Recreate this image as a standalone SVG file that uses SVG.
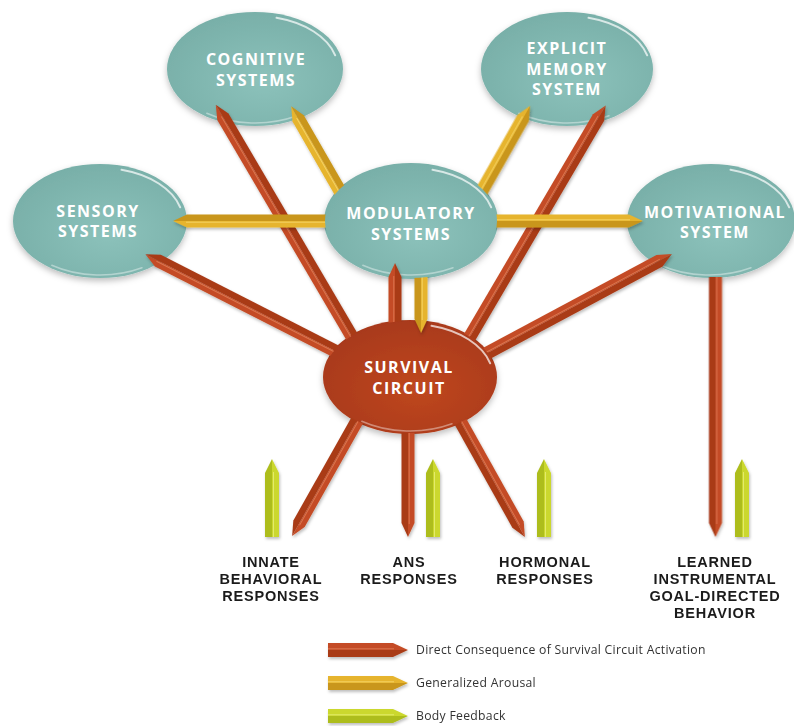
<svg xmlns="http://www.w3.org/2000/svg" xmlns:xlink="http://www.w3.org/1999/xlink" width="794" height="726" viewBox="0 0 794 726">
<style>
.nl{font-family:"Open Sans","Liberation Sans",sans-serif;font-weight:700;font-size:16px;letter-spacing:1.5px;fill:#fff;text-anchor:middle}
.bl{font-family:"Liberation Sans",Arial,sans-serif;font-weight:700;font-size:14.5px;letter-spacing:.8px;fill:#1b1b1b;text-anchor:middle}
.lg{font-family:"Open Sans","Liberation Sans",sans-serif;font-size:12.2px;letter-spacing:.3px;fill:#333}
.teal{fill:url(#tealG)}
.surv{fill:url(#survG)}
.gloss{fill:none;stroke:#fff;stroke-linecap:round}
.r1{fill:#c44c25}.r2{fill:#a93b19}.rh{fill:none;stroke:#e48763;stroke-width:1;opacity:.7}
.y1{fill:#e6b42e}.y2{fill:#c9961b}.yh{fill:none;stroke:#f7da70;stroke-width:1;opacity:.8}
.g1{fill:#cbd82e}.g2{fill:#adbd1c}.gh{fill:none;stroke:#e8f07c;stroke-width:1;opacity:.8}
</style>
<defs>
<radialGradient id="tealG" cx="0.55" cy="0.6" r="0.62">
<stop offset="0" stop-color="#8cc2bb"/><stop offset="1" stop-color="#78afa8"/>
</radialGradient>
<radialGradient id="survG" cx="0.55" cy="0.6" r="0.62">
<stop offset="0" stop-color="#bf4720"/><stop offset="1" stop-color="#a8391a"/>
</radialGradient>
<filter id="esh" x="-15%" y="-15%" width="130%" height="140%">
<feDropShadow dx="0" dy="3" stdDeviation="3" flood-color="#000" flood-opacity=".26"/>
</filter>
<filter id="ash" x="-10%" y="-10%" width="120%" height="120%">
<feDropShadow dx="1" dy="2" stdDeviation="1.6" flood-color="#000" flood-opacity=".26"/>
</filter>
<g id="gloss">
<path class="gloss" d="M21.5,-51.2A83,53 0 0 1 80.2,-13.7" stroke-width="2" opacity=".7"/>
<path class="gloss" d="M42,46.8A84,54 0 0 1 -48.2,44.2" stroke-width="1.5" opacity=".4"/>
</g>
<mask id="mSurv" maskUnits="userSpaceOnUse" x="0" y="0" width="794" height="726">
<rect width="794" height="726" fill="#fff"/>
<ellipse cx="410" cy="377" rx="86" ry="56" fill="#000"/>
</mask>
<mask id="mMod" maskUnits="userSpaceOnUse" x="0" y="0" width="794" height="726">
<rect width="794" height="726" fill="#fff"/>
<ellipse cx="411" cy="221" rx="86" ry="57" fill="#000"/>
</mask>
</defs>
<rect width="794" height="726" fill="#fff"/>

<g id="node-cognitive">
<ellipse class="teal" cx="255" cy="69" rx="88" ry="57" filter="url(#esh)"/>
<use xlink:href="#gloss" transform="translate(255,69)"/>
<text class="nl" x="256" y="65">COGNITIVE</text>
<text class="nl" x="256" y="86">SYSTEMS</text>
</g>
<g id="node-explicit">
<ellipse class="teal" cx="567" cy="69" rx="86" ry="57" filter="url(#esh)"/>
<use xlink:href="#gloss" transform="translate(567,69)"/>
<text class="nl" x="567" y="54">EXPLICIT</text>
<text class="nl" x="567" y="75">MEMORY</text>
<text class="nl" x="567" y="95">SYSTEM</text>
</g>
<g id="node-sensory">
<ellipse class="teal" cx="100" cy="221" rx="87" ry="57" filter="url(#esh)"/>
<use xlink:href="#gloss" transform="translate(100,221)"/>
<text class="nl" x="98" y="217">SENSORY</text>
<text class="nl" x="98" y="237">SYSTEMS</text>
</g>
<g id="node-motivational">
<ellipse class="teal" cx="711" cy="221" rx="84" ry="57" filter="url(#esh)"/>
<use xlink:href="#gloss" transform="translate(709,221)"/>
<text class="nl" x="715" y="218">MOTIVATIONAL</text>
<text class="nl" x="715" y="238">SYSTEM</text>
</g>
<g id="node-modulatory">
<ellipse class="teal" cx="411" cy="221" rx="87" ry="58" filter="url(#esh)"/>
<use xlink:href="#gloss" transform="translate(411,221)"/>
<text class="nl" x="411" y="219">MODULATORY</text>
<text class="nl" x="411" y="240">SYSTEMS</text>
</g>
<g id="node-survival">
<ellipse class="surv" cx="410" cy="377" rx="87" ry="57" filter="url(#esh)"/>
<use xlink:href="#gloss" transform="translate(410,377)"/>
<text class="nl" x="409" y="373">SURVIVAL</text>
<text class="nl" x="409" y="394">CIRCUIT</text>
</g>

<g id="connectors">
<g id="direct-consequence" mask="url(#mSurv)" filter="url(#ash)">
<g transform="translate(358,347) rotate(-120.4)"><path class="r1" d="M0,-6.5H267L281,0H0Z"/><path class="r2" d="M0,0H281L267,6.5H0Z"/><path class="rh" d="M0,-1.2H268"/></g>
<g transform="translate(468,340) rotate(-59.6)"><path class="r1" d="M0,-6.5H258L272,0H0Z"/><path class="r2" d="M0,0H272L258,6.5H0Z"/><path class="rh" d="M0,-1.2H259"/></g>
<g transform="translate(345,356) rotate(-153)"><path class="r1" d="M0,-6.5H210L224,0H0Z"/><path class="r2" d="M0,0H224L210,6.5H0Z"/><path class="rh" d="M0,-1.2H211"/></g>
<g transform="translate(478,358) rotate(-28.2)"><path class="r1" d="M0,-6.5H206L220,0H0Z"/><path class="r2" d="M0,0H220L206,6.5H0Z"/><path class="rh" d="M0,-1.2H207"/></g>
<g transform="translate(395,350) rotate(-90)"><path class="r1" d="M0,-6.5H73L87,0H0Z"/><path class="r2" d="M0,0H87L73,6.5H0Z"/><path class="rh" d="M0,-1.2H74"/></g>
<g transform="translate(715.5,277) rotate(90)"><path class="r1" d="M0,-6.5H246L260,0H0Z"/><path class="r2" d="M0,0H260L246,6.5H0Z"/><path class="rh" d="M0,-1.2H247"/></g>
<g transform="translate(380,380) rotate(119.4)"><path class="r1" d="M0,-6.5H165L179,0H0Z"/><path class="r2" d="M0,0H179L165,6.5H0Z"/><path class="rh" d="M0,-1.2H166"/></g>
<g transform="translate(408,400) rotate(90)"><path class="r1" d="M0,-6.5H123L137,0H0Z"/><path class="r2" d="M0,0H137L123,6.5H0Z"/><path class="rh" d="M0,-1.2H124"/></g>
<g transform="translate(440,385) rotate(60.8)"><path class="r1" d="M0,-6.5H160L174,0H0Z"/><path class="r2" d="M0,0H174L160,6.5H0Z"/><path class="rh" d="M0,-1.2H161"/></g>
</g>
<g id="generalized-arousal" mask="url(#mMod)" filter="url(#ash)">
<g transform="translate(352,212) rotate(-119.9)"><path class="y1" d="M0,-6.5H108L122,0H0Z"/><path class="y2" d="M0,0H122L108,6.5H0Z"/><path class="yh" d="M0,-1.2H109"/></g>
<g transform="translate(470,212) rotate(-60.5)"><path class="y1" d="M0,-6.5H108L122,0H0Z"/><path class="y2" d="M0,0H122L108,6.5H0Z"/><path class="yh" d="M0,-1.2H109"/></g>
<g transform="translate(340,221) rotate(180)"><path class="y1" d="M0,-6.5H153L167,0H0Z"/><path class="y2" d="M0,0H167L153,6.5H0Z"/><path class="yh" d="M0,-1.2H154"/></g>
<g transform="translate(480,221)"><path class="y1" d="M0,-6.5H149L163,0H0Z"/><path class="y2" d="M0,0H163L149,6.5H0Z"/><path class="yh" d="M0,-1.2H150"/></g>
<g transform="translate(421,262) rotate(90)"><path class="y1" d="M0,-6.5H57L71,0H0Z"/><path class="y2" d="M0,0H71L57,6.5H0Z"/><path class="yh" d="M0,-1.2H58"/></g>
</g>
<g id="body-feedback" filter="url(#ash)">
<g transform="translate(272,537) rotate(-90)"><path class="g2" d="M0,-7H64L78,0H0Z"/><path class="g1" d="M0,0H78L64,7H0Z"/><path class="gh" d="M0,1.5H65"/></g>
<g transform="translate(433,537) rotate(-90)"><path class="g2" d="M0,-7H64L78,0H0Z"/><path class="g1" d="M0,0H78L64,7H0Z"/><path class="gh" d="M0,1.5H65"/></g>
<g transform="translate(544,537) rotate(-90)"><path class="g2" d="M0,-7H64L78,0H0Z"/><path class="g1" d="M0,0H78L64,7H0Z"/><path class="gh" d="M0,1.5H65"/></g>
<g transform="translate(742,537) rotate(-90)"><path class="g2" d="M0,-7H64L78,0H0Z"/><path class="g1" d="M0,0H78L64,7H0Z"/><path class="gh" d="M0,1.5H65"/></g>
</g>
</g>

<g id="output-innate">
<text class="bl" x="271" y="567">INNATE</text>
<text class="bl" x="271" y="584">BEHAVIORAL</text>
<text class="bl" x="271" y="601">RESPONSES</text>
</g>
<g id="output-ans">
<text class="bl" x="409" y="567">ANS</text>
<text class="bl" x="409" y="584">RESPONSES</text>
</g>
<g id="output-hormonal">
<text class="bl" x="545" y="567">HORMONAL</text>
<text class="bl" x="545" y="584">RESPONSES</text>
</g>
<g id="output-learned">
<text class="bl" x="715" y="567">LEARNED</text>
<text class="bl" x="715" y="584">INSTRUMENTAL</text>
<text class="bl" x="715" y="601">GOAL-DIRECTED</text>
<text class="bl" x="715" y="618">BEHAVIOR</text>
</g>

<g id="legend" filter="url(#ash)">
<g transform="translate(328,650)"><path class="r1" d="M0,-7H65L80,0H0Z"/><path class="r2" d="M0,0H80L65,7H0Z"/><path class="rh" d="M0,-1.2H66"/></g>
<g transform="translate(328,683)"><path class="y1" d="M0,-7H65L80,0H0Z"/><path class="y2" d="M0,0H80L65,7H0Z"/><path class="yh" d="M0,-1.2H66"/></g>
<g transform="translate(328,716)"><path class="g1" d="M0,-7H65L80,0H0Z"/><path class="g2" d="M0,0H80L65,7H0Z"/><path class="gh" d="M0,-1.2H66"/></g>
</g>
<g id="legend-text">
<text class="lg" x="416" y="654">Direct Consequence of Survival Circuit Activation</text>
<text class="lg" x="416" y="687">Generalized Arousal</text>
<text class="lg" x="416" y="720">Body Feedback</text>
</g>
</svg>
